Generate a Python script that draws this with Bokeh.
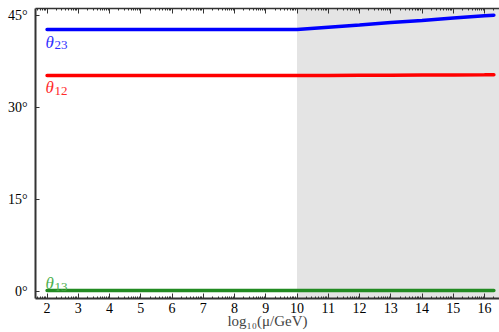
import math
from bokeh.plotting import figure
from bokeh.models import FixedTicker, LinearAxis, BoxAnnotation, Range1d, CustomJSTickFormatter
from bokeh.core.properties import value
from bokeh.embed import file_html
from bokeh.resources import INLINE

# data
x_vals = [2, 10, 11, 12, 13, 14, 15, 16, 16.3]
theta23 = [42.7, 42.7, 43.1, 43.45, 43.85, 44.2, 44.6, 44.95, 45.05]
theta12 = [35.2, 35.2, 35.22, 35.24, 35.26, 35.28, 35.3, 35.32, 35.33]
theta13 = [0.15, 0.15, 0.15, 0.15, 0.15, 0.15, 0.15, 0.15, 0.15]
shade_start = 10
x_ticks = list(range(2, 17))
y_ticks = [0, 15, 30, 45]
y_tick_labels = ["0°", "15°", "30°", "45°"]
label_names = ["θ", "θ", "θ"]
label_subs = ["23", "12", "13"]
label_x = [1.95, 1.95, 1.95]
label_y = [40.6, 33.2, 1.3]
label_colors = ["#3030ff", "#ff2a2a", "#4cae4c"]

SERIF = "Liberation Serif"

p = figure(width=499, height=332, output_backend="svg", toolbar_location=None,
           x_range=Range1d(1.63, 16.48), y_range=Range1d(-1.14, 46.14),
           min_border_left=35, min_border_right=0, min_border_top=8, min_border_bottom=34)
p.outline_line_color = None
p.grid.visible = False
p.background_fill_color = "white"

p.add_layout(BoxAnnotation(left=shade_start, fill_color="#e4e4e4", fill_alpha=1.0,
                           line_color=None, level="underlay"))

minor = [n + math.log10(k) for n in range(1, 17) for k in range(2, 10)]
xt = FixedTicker(ticks=x_ticks, minor_ticks=minor)

ax = p.xaxis[0]
ax.ticker = xt
ax.major_tick_in = 5
ax.major_tick_out = 0
ax.minor_tick_in = 2
ax.minor_tick_out = 0
ax.axis_line_width = 2
ax.axis_line_color = "#333333"
ax.major_tick_line_color = "#333333"
ax.minor_tick_line_color = "#333333"
ax.major_label_text_font = SERIF
ax.major_label_text_font_size = "14px"
ax.major_label_text_color = "black"
ax.major_label_standoff = 4
ax.axis_label = "log₁₀(μ/GeV)"
ax.axis_label_text_font = SERIF
ax.axis_label_text_font_size = "15px"
ax.axis_label_text_font_style = "normal"
ax.axis_label_standoff = -3

top = LinearAxis(ticker=xt, formatter=CustomJSTickFormatter(code="return ''"),
                 major_tick_in=5, major_tick_out=0, minor_tick_in=2, minor_tick_out=0,
                 axis_line_width=1.5, axis_line_color="#333333",
                 major_tick_line_color="#333333", minor_tick_line_color="#333333",
                 major_label_text_font_size="1px", major_label_standoff=0)
p.add_layout(top, "above")

ya = p.yaxis[0]
ya.ticker = FixedTicker(ticks=y_ticks, minor_ticks=[])
ya.major_label_overrides = {t: s for t, s in zip(y_ticks, y_tick_labels)}
ya.major_tick_in = 4
ya.major_tick_out = 0
ya.minor_tick_in = 0
ya.minor_tick_out = 0
ya.axis_line_width = 2
ya.axis_line_color = "#333333"
ya.major_tick_line_color = "#333333"
ya.major_label_text_font = SERIF
ya.major_label_text_font_size = "14px"
ya.major_label_text_color = "black"
ya.major_label_standoff = 8

p.line(x_vals, theta23, line_color="#0000ff", line_width=3.5, line_cap="round")
p.line(x_vals, theta12, line_color="#ff0000", line_width=3.5, line_cap="round")
p.line(x_vals, theta13, line_color="#228b22", line_width=3.5, line_cap="round")

p.text(x=label_x, y=label_y, text=label_names, text_color=label_colors,
       text_font=value(SERIF), text_font_size="17px", text_font_style="italic",
       text_baseline="alphabetic", text_align="left")
p.text(x=label_x, y=label_y, text=label_subs, text_color=label_colors,
       text_font=value(SERIF), text_font_size="13px",
       text_baseline="alphabetic", text_align="left", x_offset=9, y_offset=3)

open("out.html", "w").write(file_html(p, INLINE))
